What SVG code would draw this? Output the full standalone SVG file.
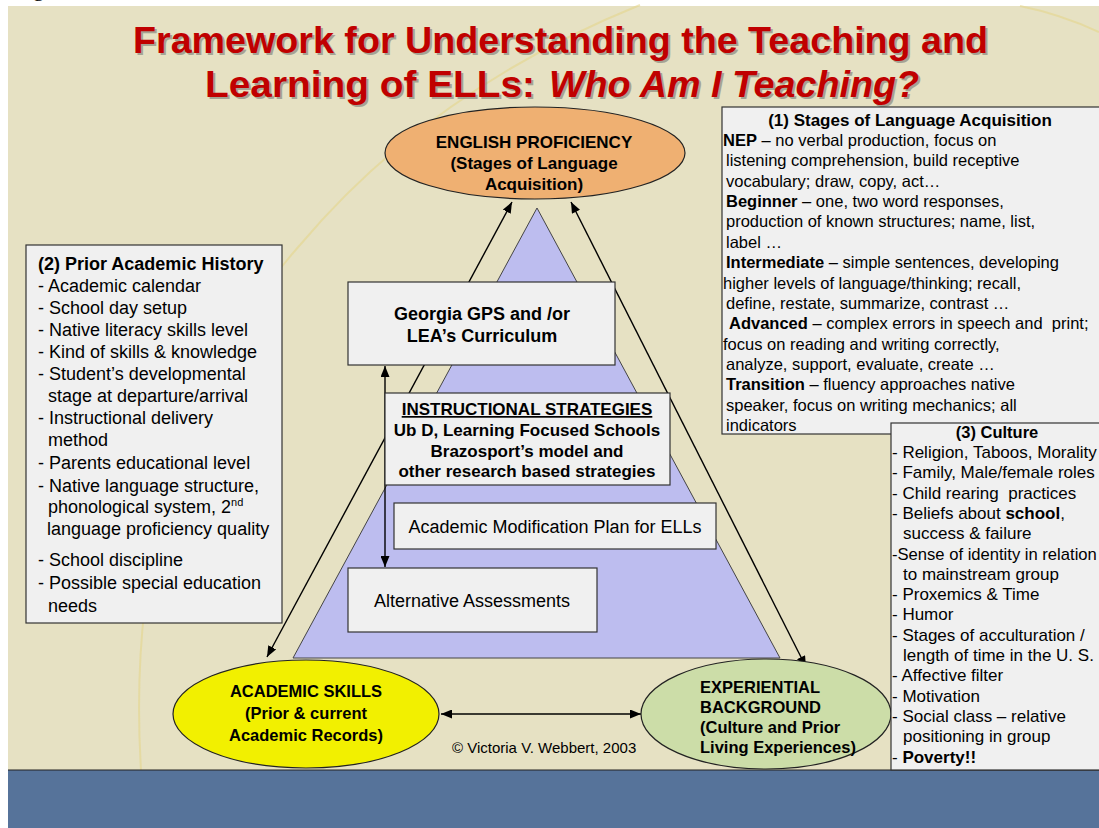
<svg xmlns="http://www.w3.org/2000/svg" width="1099" height="828" viewBox="0 0 1099 828">
<style>
.t{font-family:"Liberation Sans",Arial,Helvetica,sans-serif;fill:#000}
.b{font-weight:bold}
.box{fill:#F0F0F0;stroke:#333;stroke-width:1.2}
.ell{stroke:#222;stroke-width:1.2}
.con{stroke:#000;stroke-width:1.4;fill:none;marker-start:url(#ah);marker-end:url(#ah)}
.arc{fill:none;stroke:#E4D68C;stroke-width:2;opacity:0.6}
.ttl{font-family:"Liberation Sans",Arial,sans-serif;font-weight:bold;font-size:36px}
.s16{font-size:16.5px}
.s17{font-size:17px}
.s18{font-size:18px}
</style>
<defs>
<marker id="ah" markerUnits="userSpaceOnUse" markerWidth="11" markerHeight="9" refX="11" refY="4.5" orient="auto-start-reverse">
<path d="M0,0 L11,4.5 L0,9 z" fill="#000"/>
</marker>
</defs>
<rect x="0" y="0" width="1099" height="828" fill="#fff"/>
<text x="33" y="-4" font-family="Liberation Serif,serif" font-size="22">g</text>
<rect x="8" y="6" width="1091" height="764" fill="#E6E1C3"/>
<path class="arc" d="M141,770 C128,560 180,380 300,245 Q430,90 640,5"/>
<path class="arc" d="M1020,6 Q1060,14 1099,32"/>
<rect x="8" y="770" width="1091" height="58" fill="#56739A"/>
<line x1="8" y1="770" x2="1099" y2="770" stroke="#222" stroke-width="1.2"/>

<g id="title">
<text class="ttl" x="135" y="55" textLength="855" lengthAdjust="spacingAndGlyphs" fill="#8a8a80" opacity="0.7">Framework for Understanding the Teaching and</text>
<text class="ttl" x="133" y="53" textLength="855" lengthAdjust="spacingAndGlyphs" fill="#C00000">Framework for Understanding the Teaching and</text>
<text class="ttl" x="207" y="99" textLength="330" lengthAdjust="spacingAndGlyphs" fill="#8a8a80" opacity="0.7">Learning of ELLs:</text>
<text class="ttl" x="205" y="97" textLength="330" lengthAdjust="spacingAndGlyphs" fill="#C00000">Learning of ELLs:</text>
<text class="ttl" x="551" y="99" textLength="370" lengthAdjust="spacingAndGlyphs" font-style="italic" fill="#8a8a80" opacity="0.7">Who Am I Teaching?</text>
<text class="ttl" x="549" y="97" textLength="370" lengthAdjust="spacingAndGlyphs" font-style="italic" fill="#C00000">Who Am I Teaching?</text>
</g>

<g id="triangle">
<polygon points="537,208 293,658 780,658" fill="#BDBDEF" stroke="#444" stroke-width="1"/>
</g>

<g id="connectors">
<line class="con" x1="512" y1="202" x2="267" y2="657"/>
<line class="con" x1="571" y1="202" x2="806" y2="667"/>
<line class="con" x1="441" y1="714" x2="641" y2="714"/>
<line class="con" x1="385" y1="366" x2="385" y2="567"/>
</g>

<g id="english-proficiency">
<ellipse class="ell" cx="535" cy="153" rx="150" ry="46" fill="#EFB072"/>
<text class="t b s17" text-anchor="middle" x="534" y="148">ENGLISH PROFICIENCY</text>
<text class="t b s17" text-anchor="middle" x="534" y="169">(Stages of Language</text>
<text class="t b s17" text-anchor="middle" x="534" y="190">Acquisition)</text>
</g>

<g id="academic-skills">
<ellipse class="ell" cx="306" cy="714" rx="133" ry="54" fill="#F2F000"/>
<text class="t b s16" text-anchor="middle" x="306" y="697">ACADEMIC SKILLS</text>
<text class="t b s16" text-anchor="middle" x="306" y="719">(Prior &amp; current</text>
<text class="t b s16" text-anchor="middle" x="306" y="741">Academic Records)</text>
</g>

<g id="experiential-background">
<ellipse class="ell" cx="766" cy="714" rx="125" ry="55" fill="#CCDDA8"/>
<text class="t b s16" x="700" y="693">EXPERIENTIAL</text>
<text class="t b s16" x="700" y="713">BACKGROUND</text>
<text class="t b s16" x="700" y="733">(Culture and Prior</text>
<text class="t b s16" x="700" y="753">Living Experiences)</text>
</g>

<g id="copyright">
<text class="t" font-size="15" x="452" y="753">© Victoria V. Webbert, 2003</text>
</g>

<g id="georgia-gps">
<rect class="box" x="348" y="282" width="267" height="83"/>
<text class="t b s18" text-anchor="middle" x="482" y="320">Georgia GPS and /or</text>
<text class="t b s18" text-anchor="middle" x="482" y="342">LEA’s Curriculum</text>
</g>

<g id="instructional-strategies">
<rect class="box" x="385" y="393" width="285" height="92"/>
<text class="t b s17" text-anchor="middle" x="527" y="415" text-decoration="underline">INSTRUCTIONAL STRATEGIES</text>
<text class="t b s17" text-anchor="middle" x="527" y="436">Ub D, Learning Focused Schools</text>
<text class="t b s17" text-anchor="middle" x="527" y="457">Brazosport’s model and</text>
<text class="t b s17" text-anchor="middle" x="527" y="477">other research based strategies</text>
</g>

<g id="academic-modification">
<rect class="box" x="394" y="503" width="322" height="46"/>
<text class="t s18" text-anchor="middle" x="555" y="533">Academic Modification Plan for ELLs</text>
</g>

<g id="alternative-assessments">
<rect class="box" x="348" y="568" width="249" height="64"/>
<text class="t s18" text-anchor="middle" x="472" y="607">Alternative Assessments</text>
</g>

<g id="prior-academic-history">
<rect class="box" x="26" y="245" width="256" height="378"/>
<text class="t b s18" x="38" y="270">(2) Prior Academic History</text>
<text class="t s18" x="38" y="292">- Academic calendar</text>
<text class="t s18" x="38" y="314">- School day setup</text>
<text class="t s18" x="38" y="336">- Native literacy skills level</text>
<text class="t s18" x="38" y="358">- Kind of skills &amp; knowledge</text>
<text class="t s18" x="38" y="380">- Student’s developmental</text>
<text class="t s18" x="48" y="402">stage at departure/arrival</text>
<text class="t s18" x="38" y="424">- Instructional delivery</text>
<text class="t s18" x="48" y="446">method</text>
<text class="t s18" x="38" y="469">- Parents educational level</text>
<text class="t s18" x="38" y="492">- Native language structure,</text>
<text class="t s18" x="48" y="513">phonological system, 2<tspan font-size="11" dy="-7">nd</tspan></text>
<text class="t s18" x="47" y="535">language proficiency quality</text>
<text class="t s18" x="38" y="566">- School discipline</text>
<text class="t s18" x="38" y="589">- Possible special education</text>
<text class="t s18" x="48" y="612">needs</text>
</g>

<g id="stages-of-language-acquisition">
<rect class="box" x="722" y="107" width="400" height="327"/>
<text class="t b s17" text-anchor="middle" x="910" y="126">(1) Stages of Language Acquisition</text>
<text class="t s16" x="723" y="146"><tspan class="b">NEP</tspan> – no verbal production, focus on</text>
<text class="t s16" x="726" y="166.4">listening comprehension, build receptive</text>
<text class="t s16" x="726" y="186.7">vocabulary; draw, copy, act…</text>
<text class="t s16" x="726" y="207"><tspan class="b">Beginner</tspan> – one, two word responses,</text>
<text class="t s16" x="726" y="227.4">production of known structures; name, list,</text>
<text class="t s16" x="726" y="247.8">label …</text>
<text class="t s16" x="726" y="268"><tspan class="b">Intermediate</tspan> – simple sentences, developing</text>
<text class="t s16" x="723" y="288.5">higher levels of language/thinking; recall,</text>
<text class="t s16" x="726" y="308.8">define, restate, summarize, contrast …</text>
<text class="t s16" x="729" y="329" xml:space="preserve"><tspan class="b">Advanced</tspan> – complex errors in speech and  print;</text>
<text class="t s16" x="723" y="349.5">focus on reading and writing correctly,</text>
<text class="t s16" x="726" y="369.9">analyze, support, evaluate, create …</text>
<text class="t s16" x="726" y="390.2"><tspan class="b">Transition</tspan> – fluency approaches native</text>
<text class="t s16" x="726" y="410.6">speaker, focus on writing mechanics; all</text>
<text class="t s16" x="726" y="430.9">indicators</text>
</g>

<g id="culture">
<rect class="box" x="891" y="423" width="300" height="347"/>
<text class="t b s16" text-anchor="middle" x="997" y="438">(3) Culture</text>
<text class="t s17" x="892" y="458">- Religion, Taboos, Morality</text>
<text class="t s17" x="892" y="478.3">- Family, Male/female roles</text>
<text class="t s17" x="892" y="498.6" xml:space="preserve">- Child rearing  practices</text>
<text class="t s17" x="892" y="518.9">- Beliefs about <tspan class="b">school</tspan>,</text>
<text class="t s17" x="903" y="539.2">success &amp; failure</text>
<text class="t" font-size="16.6" x="892" y="559.5">-Sense of identity in relation</text>
<text class="t s17" x="903" y="579.8">to mainstream group</text>
<text class="t s17" x="892" y="600.1">- Proxemics &amp; Time</text>
<text class="t s17" x="892" y="620.4">- Humor</text>
<text class="t s17" x="892" y="640.7">- Stages of acculturation /</text>
<text class="t s17" x="903" y="661">length of time in the U. S.</text>
<text class="t s17" x="892" y="681.3">- Affective filter</text>
<text class="t s17" x="892" y="701.6">- Motivation</text>
<text class="t s17" x="892" y="721.9">- Social class – relative</text>
<text class="t s17" x="903" y="742.2">positioning in group</text>
<text class="t s17" x="892" y="762.5">- <tspan class="b">Poverty!!</tspan></text>
</g>
</svg>
